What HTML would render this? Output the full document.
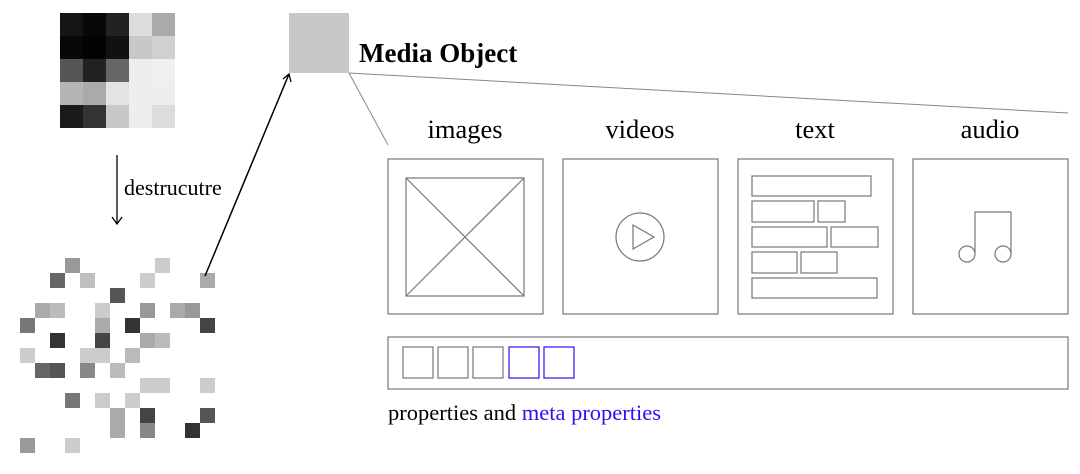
<!DOCTYPE html>
<html><head><style>body{margin:0;background:#fff}svg{display:block}</style></head><body>
<svg width="1080" height="474" xmlns="http://www.w3.org/2000/svg" font-family="Liberation Serif, serif">
<g id="grid">
<rect x="60" y="13" width="23" height="23" fill="#151515"/><rect x="83" y="13" width="23" height="23" fill="#080808"/><rect x="106" y="13" width="23" height="23" fill="#222"/><rect x="129" y="13" width="23" height="23" fill="#ddd"/><rect x="152" y="13" width="23" height="23" fill="#aaa"/>
<rect x="60" y="36" width="23" height="23" fill="#080808"/><rect x="83" y="36" width="23" height="23" fill="#030303"/><rect x="106" y="36" width="23" height="23" fill="#111"/><rect x="129" y="36" width="23" height="23" fill="#c8c8c8"/><rect x="152" y="36" width="23" height="23" fill="#d0d0d0"/>
<rect x="60" y="59" width="23" height="23" fill="#555"/><rect x="83" y="59" width="23" height="23" fill="#222"/><rect x="106" y="59" width="23" height="23" fill="#666"/><rect x="129" y="59" width="23" height="23" fill="#eee"/><rect x="152" y="59" width="23" height="23" fill="#f0f0f0"/>
<rect x="60" y="82" width="23" height="23" fill="#b5b5b5"/><rect x="83" y="82" width="23" height="23" fill="#aaa"/><rect x="106" y="82" width="23" height="23" fill="#e3e3e3"/><rect x="129" y="82" width="23" height="23" fill="#eee"/><rect x="152" y="82" width="23" height="23" fill="#eee"/>
<rect x="60" y="105" width="23" height="23" fill="#1a1a1a"/><rect x="83" y="105" width="23" height="23" fill="#333"/><rect x="106" y="105" width="23" height="23" fill="#c8c8c8"/><rect x="129" y="105" width="23" height="23" fill="#eee"/><rect x="152" y="105" width="23" height="23" fill="#dcdcdc"/>
</g>
<g>
<rect x="65" y="258" width="15" height="15" fill="#999"/><rect x="155" y="258" width="15" height="15" fill="#ccc"/>
<rect x="50" y="273" width="15" height="15" fill="#666"/><rect x="80" y="273" width="15" height="15" fill="#c0c0c0"/><rect x="140" y="273" width="15" height="15" fill="#ccc"/><rect x="200" y="273" width="15" height="15" fill="#aaa"/>
<rect x="110" y="288" width="15" height="15" fill="#555"/>
<rect x="35" y="303" width="15" height="15" fill="#aaa"/><rect x="50" y="303" width="15" height="15" fill="#bbb"/><rect x="95" y="303" width="15" height="15" fill="#ccc"/><rect x="140" y="303" width="15" height="15" fill="#999"/><rect x="170" y="303" width="15" height="15" fill="#aaa"/><rect x="185" y="303" width="15" height="15" fill="#999"/>
<rect x="20" y="318" width="15" height="15" fill="#777"/><rect x="95" y="318" width="15" height="15" fill="#aaa"/><rect x="125" y="318" width="15" height="15" fill="#333"/><rect x="200" y="318" width="15" height="15" fill="#444"/>
<rect x="50" y="333" width="15" height="15" fill="#333"/><rect x="95" y="333" width="15" height="15" fill="#444"/><rect x="140" y="333" width="15" height="15" fill="#aaa"/><rect x="155" y="333" width="15" height="15" fill="#bbb"/>
<rect x="20" y="348" width="15" height="15" fill="#ccc"/><rect x="80" y="348" width="30" height="15" fill="#ccc"/><rect x="125" y="348" width="15" height="15" fill="#bbb"/>
<rect x="35" y="363" width="15" height="15" fill="#666"/><rect x="50" y="363" width="15" height="15" fill="#555"/><rect x="80" y="363" width="15" height="15" fill="#888"/><rect x="110" y="363" width="15" height="15" fill="#bbb"/>
<rect x="140" y="378" width="30" height="15" fill="#ccc"/><rect x="200" y="378" width="15" height="15" fill="#ccc"/>
<rect x="65" y="393" width="15" height="15" fill="#777"/><rect x="95" y="393" width="15" height="15" fill="#ccc"/><rect x="125" y="393" width="15" height="15" fill="#ccc"/>
<rect x="110" y="408" width="15" height="15" fill="#aaa"/><rect x="140" y="408" width="15" height="15" fill="#444"/><rect x="200" y="408" width="15" height="15" fill="#555"/>
<rect x="110" y="423" width="15" height="15" fill="#aaa"/><rect x="140" y="423" width="15" height="15" fill="#888"/><rect x="185" y="423" width="15" height="15" fill="#333"/>
<rect x="20" y="438" width="15" height="15" fill="#999"/><rect x="65" y="438" width="15" height="15" fill="#ccc"/>
</g>
<line x1="117" y1="155" x2="117" y2="224" stroke="#000" stroke-width="1.3"/>
<path d="M112,217 L117,224 L122,217" fill="none" stroke="#000" stroke-width="1.3"/>
<text x="124" y="195" font-size="22">destrucutre</text>
<line x1="205" y1="276" x2="289" y2="74" stroke="#000" stroke-width="1.5"/>
<path d="M283,79 L289,74 L291,82" fill="none" stroke="#000" stroke-width="1.3"/>
<rect x="289" y="13" width="60" height="60" fill="#c8c8c8"/>
<text x="359" y="62" font-size="27" font-weight="bold">Media Object</text>
<line x1="349" y1="73" x2="388" y2="145" stroke="#888"/>
<line x1="349" y1="73" x2="1068" y2="113" stroke="#888"/>
<g font-size="26.5" text-anchor="middle">
<text x="465" y="138">images</text><text x="640" y="138">videos</text><text x="815" y="138">text</text><text x="990" y="138">audio</text>
</g>
<g fill="none" stroke="#777" stroke-width="1.2">
<rect x="388" y="159" width="155" height="155"/>
<rect x="563" y="159" width="155" height="155"/>
<rect x="738" y="159" width="155" height="155"/>
<rect x="913" y="159" width="155" height="155"/>
<rect x="406" y="178" width="118" height="118"/>
<line x1="406" y1="178" x2="524" y2="296"/><line x1="524" y1="178" x2="406" y2="296"/>
<circle cx="640" cy="237" r="24"/>
<path d="M633,225 L654,237 L633,249 Z"/>
<rect x="752" y="176" width="119" height="20"/>
<rect x="752" y="201" width="62" height="21"/><rect x="818" y="201" width="27" height="21"/>
<rect x="752" y="227" width="75" height="20"/><rect x="831" y="227" width="47" height="20"/>
<rect x="752" y="252" width="45" height="21"/><rect x="801" y="252" width="36" height="21"/>
<rect x="752" y="278" width="125" height="20"/>
<path d="M975,254 L975,212 L1011,212 L1011,254"/>
<circle cx="967" cy="254" r="8"/><circle cx="1003" cy="254" r="8"/>
<rect x="388" y="337" width="680" height="52"/>
<rect x="403" y="347" width="30" height="31"/><rect x="438" y="347" width="30" height="31"/><rect x="473" y="347" width="30" height="31"/>
</g>
<g fill="none" stroke="#2a12f0" stroke-width="1.2">
<rect x="509" y="347" width="30" height="31"/><rect x="544" y="347" width="30" height="31"/>
</g>
<text x="388" y="420" font-size="22.5">properties and <tspan fill="#2a12f0">meta properties</tspan></text>
</svg>
</body></html>
